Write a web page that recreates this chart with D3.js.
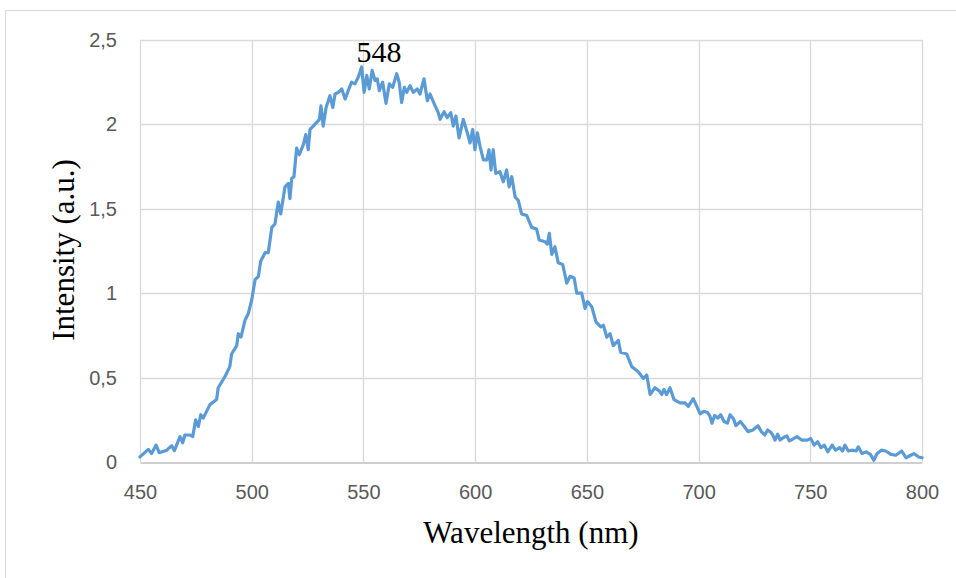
<!DOCTYPE html>
<html><head><meta charset="utf-8">
<script src="https://cdn.jsdelivr.net/npm/d3@7"></script>
<style>body{margin:0;background:#fff}svg{display:block}</style>
</head><body>
<svg id="c" width="956" height="578"></svg>
<script>
const wavelength = [450,453.7,455.2,457.2,458.6,462,464.2,465.4,467.9,469.1,470.1,472.4,473.6,474.9,476.1,477.2,478.3,481.3,484.3,485,488,490.2,491,493.3,494,495.2,497,498.5,500,501.5,503,504,506,507.4,509,510.4,511.9,513,514.9,516.4,517.1,517.9,518.9,520.1,521.3,523.1,524.2,525.3,526.1,528.3,530.3,531,532,533.3,535,536.3,537.3,538.8,540.3,541.8,543.2,544.7,546.2,547.7,549.2,550.3,551.5,552.6,553.9,555.2,556.2,557.1,558.6,560.1,561.6,563.1,564.9,566,567.1,568.3,569.4,570.9,572.3,574.1,575.3,577.1,578.6,579.8,582.1,583.5,584.3,586.1,587.5,589.1,590.2,591.4,592.8,594.7,596.5,597.7,598.9,599.9,601,602.2,603.7,605.2,606.2,607.1,608.1,609.2,611.1,612.6,614.1,615.2,616.4,617.9,619.3,620.8,623.1,625.3,627.5,628.7,631.3,632.3,633.2,634.3,635.7,637.2,639.2,641,642.5,644.3,645.5,647.7,649.2,650.3,652.2,654.1,656.2,657.4,658.9,660.4,661.8,664.1,665.1,667.8,670.1,673,675.3,676.8,678.3,680.5,682.5,683.5,684.5,685.7,687.2,689,691.7,693.9,695.4,697.6,699,700.7,702.3,703.8,705,706,707.2,708.6,709.9,711.4,712.9,714.1,715.7,716.7,718.7,720.2,722.1,724.3,726.6,728.1,729.6,730.9,732.4,733.4,734.2,735.4,736.5,738,739.5,740.6,742.1,744.1,746.1,748.7,750.2,751.7,753.3,754.8,756.3,757.8,759.8,761.3,763.2,764.4,765.5,767,768.5,770.5,771.5,773.1,775,776.9,778.4,779.9,781.8,783.8,786.1,788.3,790.9,792.9,794.9,796.4,798.5,800];
const intensity = [0.03,0.075,0.05,0.10,0.055,0.07,0.097,0.067,0.15,0.114,0.16,0.16,0.15,0.25,0.21,0.28,0.26,0.34,0.37,0.44,0.505,0.565,0.64,0.69,0.76,0.74,0.84,0.88,0.96,1.08,1.10,1.19,1.24,1.24,1.39,1.41,1.54,1.47,1.63,1.65,1.56,1.68,1.69,1.86,1.82,1.88,1.94,1.85,1.97,2.00,2.03,2.11,1.99,2.10,2.17,2.10,2.18,2.19,2.21,2.15,2.20,2.25,2.24,2.28,2.34,2.19,2.29,2.21,2.32,2.26,2.27,2.20,2.25,2.125,2.24,2.22,2.30,2.25,2.13,2.22,2.19,2.23,2.19,2.21,2.18,2.27,2.14,2.18,2.11,2.07,2.03,2.075,2.04,2.07,1.99,2.05,1.92,2.03,1.95,1.89,1.97,1.85,1.95,1.87,1.79,1.79,1.85,1.73,1.85,1.71,1.72,1.66,1.73,1.63,1.69,1.57,1.55,1.47,1.46,1.39,1.38,1.315,1.305,1.29,1.355,1.23,1.275,1.18,1.17,1.06,1.10,1.09,1.00,1.00,0.91,0.95,0.92,0.83,0.80,0.81,0.74,0.76,0.69,0.72,0.65,0.64,0.565,0.535,0.495,0.515,0.40,0.44,0.42,0.40,0.43,0.40,0.44,0.37,0.35,0.35,0.33,0.375,0.335,0.285,0.30,0.295,0.275,0.23,0.275,0.26,0.28,0.24,0.23,0.28,0.255,0.215,0.24,0.215,0.18,0.19,0.215,0.18,0.16,0.19,0.175,0.155,0.13,0.165,0.13,0.145,0.155,0.125,0.135,0.15,0.13,0.13,0.14,0.10,0.12,0.085,0.10,0.06,0.10,0.07,0.085,0.065,0.10,0.065,0.07,0.065,0.09,0.05,0.06,0.045,0.01,0.05,0.07,0.065,0.045,0.04,0.065,0.025,0.04,0.05,0.03,0.025];
const xTicks = [450,500,550,600,650,700,750,800];
const yTicks = [0,0.5,1,1.5,2,2.5];
const peakLabel = {wavelength:548, value:2.34, text:"548"};
const xTitle = "Wavelength (nm)";
const yTitle = "Intensity (a.u.)";

const svg = d3.select("#c");
const L=140,R=922,T=40,B=462;
const x = d3.scaleLinear().domain([450,800]).range([L,R]);
const y = d3.scaleLinear().domain([0,2.5]).range([B,T]);

// outer frame
svg.append("path").attr("d","M5.5,578 L5.5,10.5 L956,10.5").attr("fill","none").attr("stroke","#d9d9d9").attr("stroke-width",1);

// gridlines
svg.append("g").selectAll("line").data(yTicks.filter(d=>d>0)).join("line")
  .attr("x1",L).attr("x2",R).attr("y1",d=>Math.round(y(d))+0.5).attr("y2",d=>Math.round(y(d))+0.5)
  .attr("stroke","#d9d9d9").attr("stroke-width",1.3);
svg.append("g").selectAll("line").data(xTicks).join("line")
  .attr("x1",d=>Math.round(x(d))+0.5).attr("x2",d=>Math.round(x(d))+0.5).attr("y1",T).attr("y2",B)
  .attr("stroke","#d9d9d9").attr("stroke-width",1.3);

const tickFont = "'Liberation Sans',Arial,sans-serif";
// x axis
const xa = svg.append("g").attr("transform",`translate(0,${B+0.5})`)
  .call(d3.axisBottom(x).tickValues(xTicks).tickSize(0).tickPadding(22).tickFormat(d3.format("d")));
xa.select(".domain").attr("stroke","#bfbfbf").attr("stroke-width",1.5);
xa.selectAll("text").attr("font-family",tickFont).attr("font-size",20).attr("fill","#595959");

// y axis
const ya = svg.append("g").attr("transform",`translate(${L},0)`)
  .call(d3.axisLeft(y).tickValues(yTicks).tickSize(0).tickPadding(23).tickFormat(d=>String(d).replace(".",",")));
ya.select(".domain").remove();
ya.selectAll("text").attr("font-family",tickFont).attr("font-size",20).attr("fill","#595959");

// line
const pts = wavelength.map((w,i)=>[w,intensity[i]]);
svg.append("path").datum(pts)
  .attr("d",d3.line().x(d=>x(d[0])).y(d=>y(d[1])))
  .attr("fill","none").attr("stroke","#5b9bd5").attr("stroke-width",3.2).attr("stroke-linejoin","round").attr("stroke-linecap","round");

// peak label
svg.append("text").attr("x",x(peakLabel.wavelength)+20).attr("y",y(peakLabel.value)-5)
  .attr("text-anchor","middle").attr("font-family","'Liberation Serif','Times New Roman',serif").attr("font-size",30).attr("fill","#000").text(peakLabel.text);

// titles
svg.append("text").attr("x",531).attr("y",543).attr("text-anchor","middle")
  .attr("font-family","'Liberation Serif','Times New Roman',serif").attr("font-size",31).attr("fill","#000").text(xTitle);
svg.append("text").attr("transform","translate(74,250) rotate(-90)").attr("text-anchor","middle")
  .attr("font-family","'Liberation Serif','Times New Roman',serif").attr("font-size",31).attr("fill","#000").text(yTitle);
</script>
</body></html>
